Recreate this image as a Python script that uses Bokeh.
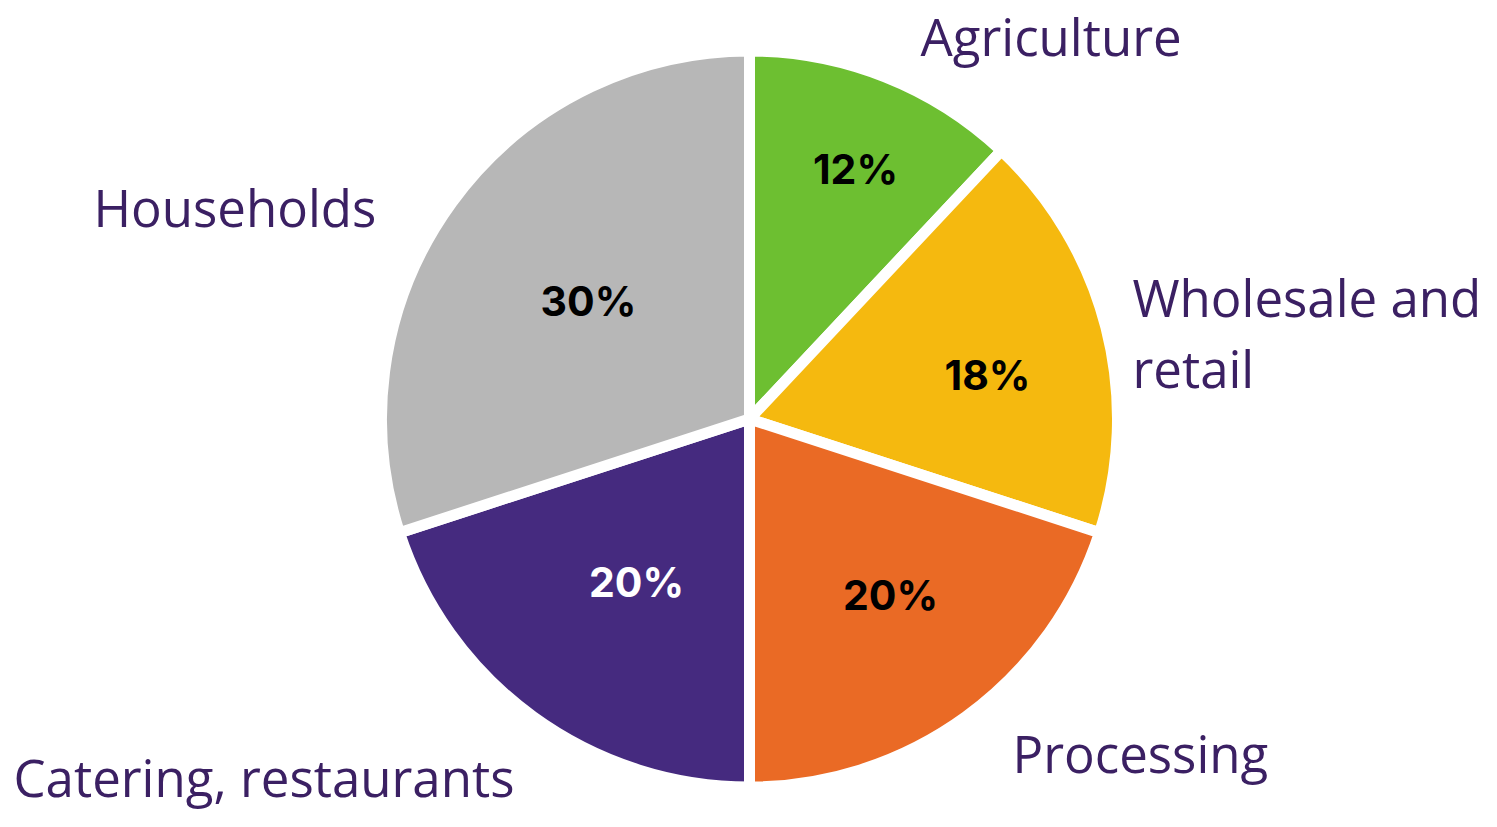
from math import pi
from bokeh.plotting import figure
from bokeh.models import Range1d, ColumnDataSource
from bokeh.core.properties import value
from bokeh.embed import file_html
from bokeh.resources import INLINE

# ---- data ----
categories = ["Agriculture", "Wholesale and\nretail", "Processing", "Catering, restaurants", "Households"]
shares = [12, 18, 20, 20, 30]
pct_labels = ["12%", "18%", "20%", "20%", "30%"]

# ---- styles ----
slice_colors = ["#6dbf31", "#f5b90f", "#ea6a25", "#452a7f", "#b7b7b7"]
pct_colors = ["#000000", "#000000", "#000000", "#ffffff", "#000000"]
label_color = "#3b2063"

W, H = 1481, 811
p = figure(width=W, height=H, output_backend="svg", toolbar_location=None,
           x_range=Range1d(0, W), y_range=Range1d(-H, 0),
           min_border=0, outline_line_color=None, background_fill_color="white")
p.axis.visible = False
p.grid.visible = False

cx, cy, r = 749, -418.5, 368
total = float(sum(shares))
starts, ends = [], []
a = pi / 2
for s in shares:
    b = a - s / total * 2 * pi
    starts.append(a)
    ends.append(b)
    a = b

src = ColumnDataSource(dict(start=starts, end=ends, color=slice_colors))
p.wedge(x=cx, y=cy, radius=r, start_angle="start", end_angle="end", direction="clock",
        fill_color="color", line_color="white", line_width=11, source=src)

# percentage labels (center x, baseline y, in pixels from top-left)
pct_off = 17
pct_pos = [(855, 185), (987, 391), (890, 611), (636, 598), (588, 317)]
p.text(x=[q[0] for q in pct_pos], y=[-(q[1] - pct_off) for q in pct_pos], text=pct_labels,
       text_color=pct_colors, text_font=value("Inter"), text_font_style="bold",
       text_font_size="41px", text_align="center", text_baseline="alphabetic")

# category labels (left x, baseline y of first line)
lab_off = 21
cat_pos = [(920, 56), (1132, 317), (1012, 773), (13, 797), (93, 227)]
for (x, y), lab in zip(cat_pos, categories):
    lines = lab.split("\n")
    for i, ln in enumerate(lines):
        p.text(x=[x], y=[-(y - lab_off + i * 71)], text=[ln], text_color=label_color,
               text_font=value("Open Sans"), text_font_size="51px",
               text_align="left", text_baseline="alphabetic")

open("out.html", "w").write(file_html(p, INLINE))
